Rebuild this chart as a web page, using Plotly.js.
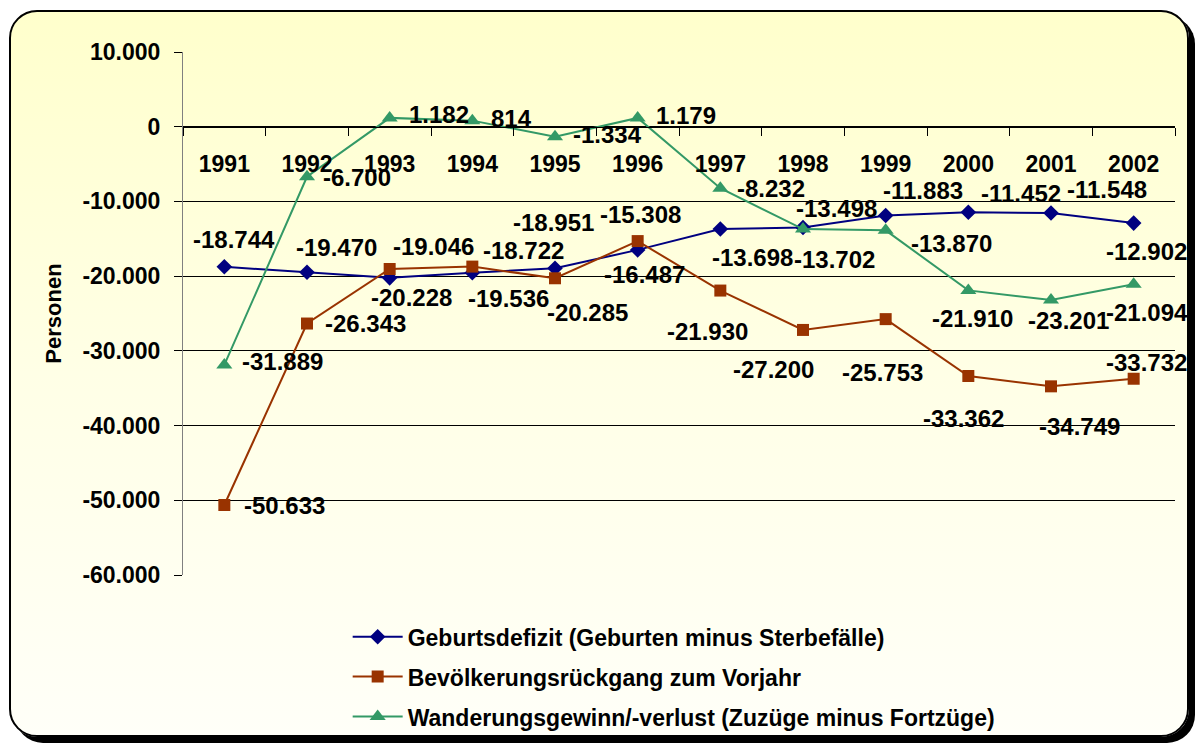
<!DOCTYPE html>
<html>
<head>
<meta charset="utf-8">
<script src="https://cdn.plot.ly/plotly-3.0.1.min.js"></script>
<style>
  html, body { margin: 0; padding: 0; width: 1198px; height: 744px; background: #ffffff; overflow: hidden; }
  #frame { position: absolute; left: 9px; top: 10px; width: 1180px; height: 727px; box-sizing: border-box;
           border: 2px solid #000; border-radius: 28px; box-shadow: 6px 6px 0 #000;
           background: linear-gradient(to bottom, #FFFFCC 0%, #FFFFE6 50%, #FFFFF8 100%); }
  #chart { position: absolute; left: 0; top: 0; width: 1198px; height: 744px; }
</style>
</head>
<body>
<div id="frame"></div>
<div id="chart"></div>
<script>
// ---- data ----
const years = ["1991","1992","1993","1994","1995","1996","1997","1998","1999","2000","2001","2002"];
const geburtsdefizit = [-18744,-19470,-20228,-19536,-18951,-16487,-13698,-13498,-11883,-11452,-11548,-12902];
const rueckgang = [-50633,-26343,-19046,-18722,-20285,-15308,-21930,-27200,-25753,-33362,-34749,-33732];
const wanderung = [-31889,-6700,1182,814,-1334,1179,-8232,-13702,-13870,-21910,-23201,-21094];
const seriesNames = ["Geburtsdefizit (Geburten minus Sterbefälle)","Bevölkerungsrückgang zum Vorjahr","Wanderungsgewinn/-verlust (Zuzüge minus Fortzüge)"];
const yTickVals = [10000,0,-10000,-20000,-30000,-40000,-50000,-60000];

// ---- label offsets (px, style only) ----
const offBlue   = [[10,-27],[29,-25],[22,20],[36,26],[-2,-46],[7,25],[32,28],[33,-19],[37,-25],[53,-19],[56,-23],[13,28]];
const offOrange = [[60,0],[58,0],[44,-23],[51,-16],[32,34],[3,-27],[-13,41],[-30,40],[-3,53],[-5,43],[28,40],[13,-16]];
const offGreen  = [[58,-3],[50,1],[49,-3],[39,-2],[52,-2],[48,-2],[51,0],[31,30],[66,13],[4,28],[17,20],[13,28]];

function fmt(v) {
  const neg = v < 0;
  let s = String(Math.abs(Math.round(v)));
  s = s.replace(/\B(?=(\d{3})+(?!\d))/g, ".");
  return (neg ? "-" : "") + s;
}

const colors = ["#000080", "#993300", "#339966"];
const symbols = ["diamond", "square", "triangle-up"];
const sizes = [12, 12, 14];
const allData = [geburtsdefizit, rueckgang, wanderung];
const allOff = [offBlue, offOrange, offGreen];

const traces = allData.map((vals, i) => ({
  type: "scatter",
  mode: "lines+markers",
  x: years,
  y: vals,
  name: seriesNames[i],
  legendgroup: "g" + i,
  line: { color: colors[i], width: 2 },
  marker: { color: colors[i], symbol: symbols[i], size: sizes[i] },
  cliponaxis: false,
  hoverinfo: "x+y"
}));

const annotations = [];
allData.forEach((vals, i) => {
  vals.forEach((v, j) => {
    annotations.push({
      x: j, y: v, xref: "x", yref: "y",
      text: fmt(v), showarrow: false,
      xanchor: "center", yanchor: "middle",
      xshift: allOff[i][j][0], yshift: -allOff[i][j][1],
      font: { size: 24, color: "#000", family: "Liberation Sans, Arial, sans-serif", weight: "bold" }
    });
  });
});

const layout = {
  width: 1198, height: 744,
  margin: { l: 183, r: 23, t: 52, b: 169, pad: 0, autoexpand: false },
  paper_bgcolor: "rgba(0,0,0,0)",
  plot_bgcolor: "rgba(0,0,0,0)",
  font: { family: "Liberation Sans, Arial, sans-serif", size: 23, color: "#000", weight: "bold" },
  showlegend: true,
  legend: {
    x: 0.166, y: -0.077, xanchor: "left", yanchor: "top",
    orientation: "v", traceorder: "grouped", tracegroupgap: 7,
    itemwidth: 50,
    bgcolor: "rgba(0,0,0,0)", borderwidth: 0,
    font: { size: 23, family: "Liberation Sans, Arial, sans-serif", weight: "bold", color: "#000" }
  },
  xaxis: {
    type: "category",
    anchor: "free", position: 6 / 7,
    showline: true, linecolor: "#000", linewidth: 1,
    ticks: "outside", tickson: "boundaries", ticklen: 8, tickcolor: "#000", tickwidth: 1,
    showgrid: false, zeroline: false,
    ticklabelstandoff: 17,
    tickfont: { size: 23 },
    range: [-0.5, 11.5],
    fixedrange: true
  },
  yaxis: {
    range: [-60000, 10000],
    tickvals: yTickVals,
    ticktext: yTickVals.map(fmt),
    showgrid: true, gridcolor: "#000", gridwidth: 1,
    showline: true, linecolor: "#808080", linewidth: 1,
    ticks: "outside", ticklen: 8, tickcolor: "#000", tickwidth: 1,
    zeroline: false,
    ticklabelstandoff: 9,
    tickfont: { size: 23 },
    title: { text: "Personen", font: { size: 22 }, standoff: 14 },
    fixedrange: true
  },
  annotations: annotations
};

Plotly.newPlot("chart", traces, layout, { displayModeBar: false, staticPlot: true });
</script>
</body>
</html>
